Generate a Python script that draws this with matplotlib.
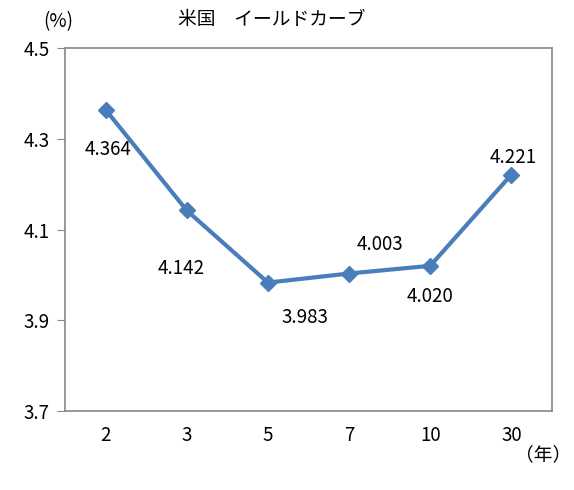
import matplotlib
matplotlib.use("Agg")
import matplotlib.pyplot as plt

plt.rcParams['font.family'] = ['Noto Sans CJK JP', 'DejaVu Sans']

categories = ["2", "3", "5", "7", "10", "30"]
values = [4.364, 4.142, 3.983, 4.003, 4.020, 4.221]
labels = ["4.364", "4.142", "3.983", "4.003", "4.020", "4.221"]
yticks = [3.7, 3.9, 4.1, 4.3, 4.5]

# label offsets in points (dx, dy)
offsets = [(2, -29), (-4, -42), (27, -25), (22, 21), (0, -22), (1, 12)]

fig = plt.figure(figsize=(5.74, 4.90), dpi=100)
ax = fig.add_axes([65/574, 1-411/490, (552-65)/574, (411-48)/490])

x = list(range(len(categories)))
color = "#4a7ebb"
ax.plot(x, values, color=color, lw=3, marker="D", ms=8, mec=color, mfc=color)

for xi, v, lab, (dx, dy) in zip(x, values, labels, offsets):
    ax.annotate(lab, (xi, v), xytext=(dx, dy), textcoords="offset points",
                ha="center", va="center", fontsize=13.5, color="black")

ax.set_xlim(-0.5, len(categories) - 0.5)
ax.set_ylim(3.7, 4.5)
ax.set_yticks(yticks)
ax.set_yticklabels([f"{t:.1f}" for t in yticks], fontsize=13.5)
ax.set_xticks(x)
ax.set_xticklabels(categories, fontsize=13.5)
ax.tick_params(axis="x", length=0, pad=10)
ax.tick_params(axis="y", length=6, color="#888888", pad=5, direction="out")

for s in ax.spines.values():
    s.set_color("#888888")
    s.set_linewidth(1.2)

fig.text(272/574, 1-20/490, "米国　イールドカーブ", ha="center", va="center", fontsize=13.5)
fig.text(58/574, 1-22/490, "(%)", ha="center", va="center", fontsize=13.5)
fig.text(543/574, 1-455/490, "（年）", ha="center", va="center", fontsize=13.5)

fig.savefig("out.png", dpi=100)
